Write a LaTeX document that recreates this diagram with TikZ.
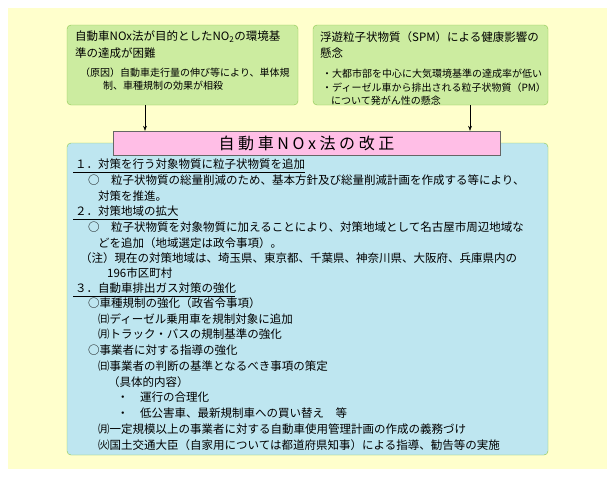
\documentclass[tikz,border=0pt]{standalone}
\usepackage{fontspec}
\setmainfont{Noto Sans CJK JP}
\usetikzlibrary{arrows.meta}
\definecolor{bgyellow}{RGB}{255,255,204}
\definecolor{boxgreen}{RGB}{204,236,160}
\definecolor{linegreen}{RGB}{140,200,80}
\definecolor{boxblue}{RGB}{190,230,240}
\definecolor{boxpink}{RGB}{255,190,230}
\begin{document}
\begin{tikzpicture}
                [x=1pt, y=-1pt,
                 box/.style={draw=linegreen, fill=boxgreen, rounded corners=4pt},
                 big/.style={anchor=west, inner sep=0pt, font=\fontsize{11.5}{13}\selectfont},
                 small/.style={anchor=west, inner sep=0pt, font=\fontsize{10}{12}\selectfont},
                 arrow/.style={draw, -{Stealth[length=5pt]}}]
                % Background
                \useasboundingbox (0,0) rectangle (615,477);
                \fill[bgyellow] (8,8) rectangle (607,469);
                % Upper boxes
                \draw[box] (67,25) rectangle (298,105);
                \draw[box] (313,25) rectangle (548,105);
                \node[big] (L1) at (75,37) {自動車NOx法が目的としたNO\textsubscript{2}の環境基};
                \node[big] (L2) at (75,53) {準の達成が困難};
                \node[small] (L3) at (80,73) {（原因）自動車走行量の伸び等により、単体規};
                \node[small] (L4) at (103,86) {制、車種規制の効果が相殺};
                \node[big] (R1) at (320,37) {浮遊粒子状物質（SPM）による健康影響の};
                \node[big] (R2) at (320,53) {懸念};
                \node[small] (R3) at (322,74) {・大都市部を中心に大気環境基準の達成率が低い};
                \node[small] (R4) at (322,88) {・ディーゼル車から排出される粒子状物質（PM）};
                \node[small] (R5) at (331,101) {について発がん性の懸念};
                \coordinate (A) at (145,105);
                \coordinate (B) at (470,105);
                % Main box
                \draw[draw=linegreen, fill=boxblue, rounded corners=4pt] (67,143) rectangle (548,455);
                \node[draw=black!60, fill=boxpink, minimum width=387pt, minimum height=24pt,
                      font=\fontsize{16}{18}\selectfont] (T) at (306.5,143) {自\ 動\ 車\ N\ O\ x\ 法\ の\ 改\ 正};
                \draw[arrow] (A) -- (A |- T.north);
                \draw[arrow] (B) -- (B |- T.north);
                % Items
                \node[big] (S1) at (75,164) {１．対策を行う対象物質に粒子状物質を追加};
                \draw (73,172) -- (305,172);
                \node[big] (S1a) at (88,180) {○\quad 粒子状物質の総量削減のため、基本方針及び総量削減計画を作成する等により、};
                \node[big] (S1b) at (98,196) {対策を推進。};
                \node[big] (S2) at (75,211) {２．対策地域の拡大};
                \draw (73,219) -- (178,219);
                \node[big] (S2a) at (88,227) {○\quad 粒子状物質を対象物質に加えることにより、対策地域として名古屋市周辺地域な};
                \node[big] (S2b) at (98,243) {どを追加（地域選定は政令事項）。};
                \node[big] (S2c) at (80,258) {（注）現在の対策地域は、埼玉県、東京都、千葉県、神奈川県、大阪府、兵庫県内の};
                \node[big] (S2d) at (107,273) {196市区町村};
                \node[big] (S3) at (75,288) {３．自動車排出ガス対策の強化};
                \draw (73,296) -- (235,296);
                \node[big] (S3a) at (88,303) {○車種規制の強化（政省令事項）};
                \node[big] (S3b) at (98,319) {㈰ディーゼル乗用車を規制対象に追加};
                \node[big] (S3c) at (98,334) {㈪トラック・バスの規制基準の強化};
                \node[big] (S3d) at (88,350) {○事業者に対する指導の強化};
                \node[big] (S3e) at (98,366) {㈰事業者の判断の基準となるべき事項の策定};
                \node[big] (S3f) at (108,382) {（具体的内容）};
                \node[big] (S3g) at (117,397) {・\quad 運行の合理化};
                \node[big] (S3h) at (117,413) {・\quad 低公害車、最新規制車への買い替え\quad 等};
                \node[big] (S3i) at (98,429) {㈪一定規模以上の事業者に対する自動車使用管理計画の作成の義務づけ};
                \node[big] (S3j) at (98,445) {㈫国土交通大臣（自家用については都道府県知事）による指導、勧告等の実施};
            \end{tikzpicture}
\end{document}
